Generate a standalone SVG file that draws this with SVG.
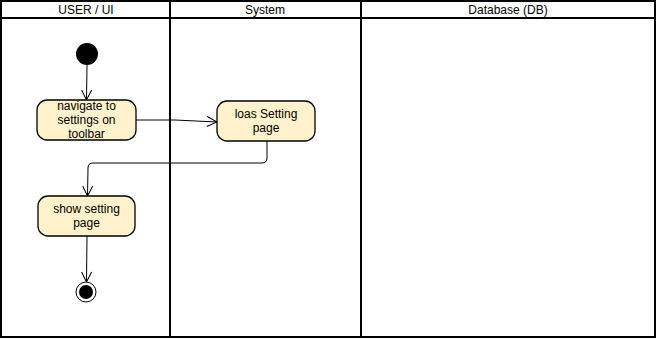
<svg xmlns="http://www.w3.org/2000/svg" width="656" height="339" viewBox="0 0 656 339">
  <style>
    .lane { fill: none; stroke: #000; stroke-width: 2; }
    .hdr { font-family: "Liberation Sans", Arial, sans-serif; font-size: 12px; fill: #000; text-anchor: middle; }
    .act rect { fill: #fff2cc; stroke: #000; stroke-width: 1.3; }
    .act text { font-family: "Liberation Sans", Arial, sans-serif; font-size: 12px; fill: #000; text-anchor: middle; }
    .edge { fill: none; stroke: #000; stroke-width: 1; marker-end: url(#open); }
  </style>
  <defs>
    <marker id="open" viewBox="0 0 12 12" refX="11" refY="6" markerWidth="12" markerHeight="12" markerUnits="userSpaceOnUse" orient="auto">
      <path d="M1,1 L11,6 L1,11" fill="none" stroke="#000" stroke-width="1"/>
    </marker>
  </defs>
  <rect width="656" height="339" fill="#fff"/>

  <!-- swimlanes -->
  <g id="lanes">
    <rect class="lane" x="1" y="1" width="654" height="336"/>
    <line class="lane" x1="1" y1="18" x2="655" y2="18"/>
    <line class="lane" x1="170" y1="1" x2="170" y2="337"/>
    <line class="lane" x1="361" y1="1" x2="361" y2="337"/>
    <text class="hdr" x="86" y="14">USER / UI</text>
    <text class="hdr" x="265" y="14">System</text>
    <text class="hdr" x="508" y="14">Database (DB)</text>
  </g>

  <!-- connectors -->
  <g id="edges">
    <path class="edge" d="M87,65 L86.5,100"/>
    <path class="edge" d="M136,120 L175,120 L217,122"/>
    <path class="edge" d="M267,141 L267,158 Q267,163 262,163 L93,163 Q88,163 88,168 L87.5,196"/>
    <path class="edge" d="M87,236 L86.5,282"/>
  </g>

  <g id="start">
    <circle cx="87" cy="54" r="11" fill="#000"/>
  </g>

  <g id="navigate" class="act">
    <rect x="37" y="100" width="99" height="40" rx="10"/>
    <text x="86.5" y="110">navigate to</text>
    <text x="86.5" y="124">settings on</text>
    <text x="86.5" y="138">toolbar</text>
  </g>

  <g id="load" class="act">
    <rect x="217" y="101" width="98" height="40" rx="10"/>
    <text x="266" y="118">loas Setting</text>
    <text x="266" y="132">page</text>
  </g>

  <g id="show" class="act">
    <rect x="38" y="196" width="97" height="40" rx="10"/>
    <text x="86.5" y="213">show setting</text>
    <text x="86.5" y="227">page</text>
  </g>

  <g id="end">
    <circle cx="86" cy="292" r="10" fill="#fff" stroke="#000" stroke-width="1"/>
    <circle cx="86" cy="292" r="7" fill="#000"/>
  </g>
</svg>
